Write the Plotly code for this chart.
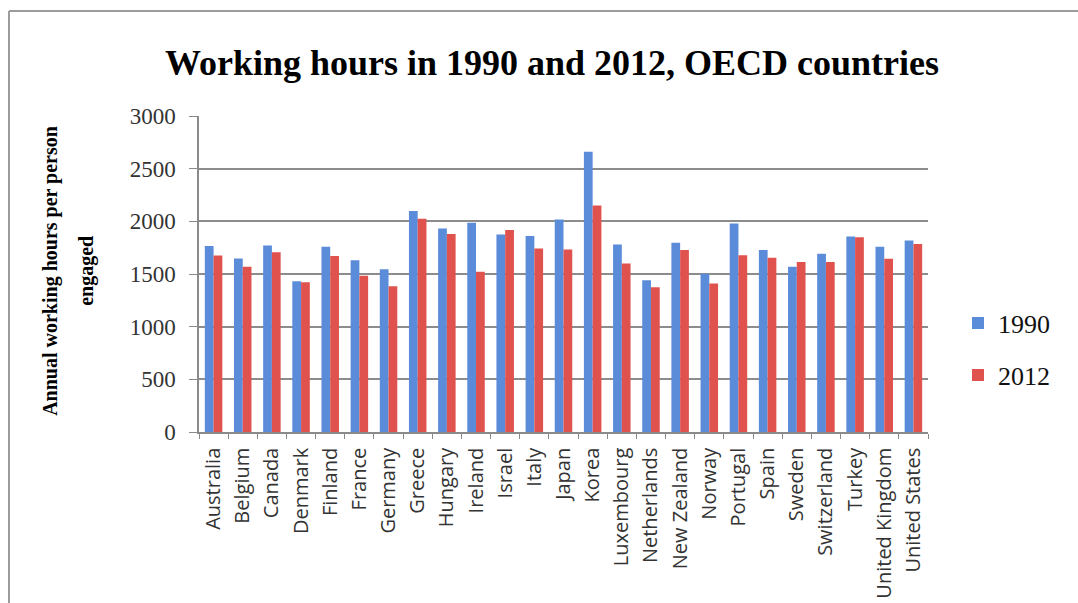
import plotly.graph_objects as go

countries = ["Australia", "Belgium", "Canada", "Denmark", "Finland", "France", "Germany",
             "Greece", "Hungary", "Ireland", "Israel", "Italy", "Japan", "Korea",
             "Luxembourg", "Netherlands", "New Zealand", "Norway", "Portugal", "Spain",
             "Sweden", "Switzerland", "Turkey", "United Kingdom", "United States"]
hours_1990 = [1765, 1647, 1771, 1432, 1758, 1631, 1546, 2097, 1932, 1986, 1875, 1860, 2018,
              2661, 1780, 1441, 1796, 1502, 1980, 1727, 1568, 1692, 1857, 1758, 1818]
hours_2012 = [1676, 1568, 1707, 1422, 1670, 1483, 1384, 2024, 1879, 1521, 1917, 1742, 1733,
              2151, 1600, 1375, 1727, 1410, 1679, 1654, 1613, 1613, 1850, 1644, 1784]
y_ticks = [0, 500, 1000, 1500, 2000, 2500, 3000]

BLUE = "#5b8cda"
RED = "#e0524e"
SERIF = "Liberation Serif, Times New Roman, serif"

fig = go.Figure()
fig.add_trace(go.Bar(name="1990", x=countries, y=hours_1990, marker_color=BLUE,
                     marker_line_width=0, legend="legend", showlegend=True))
fig.add_trace(go.Bar(name="2012", x=countries, y=hours_2012, marker_color=RED,
                     marker_line_width=0, legend="legend2", showlegend=True))

L, R, T, B = 199, 150, 116, 171
W, H = 1078, 603
pw, ph = W - L - R, H - T - B

def px(x):
    return (x - L) / pw

def py(y):
    return (H - B - y) / ph

fig.update_layout(
    width=W, height=H,
    margin=dict(l=L, r=R, t=T, b=B, pad=0, autoexpand=False),
    paper_bgcolor="white", plot_bgcolor="white",
    showlegend=True,
    barmode="group", bargap=0.4, bargroupgap=0,
    title=dict(text="<b>Working hours in 1990 and 2012, OECD countries</b>",
               x=552 / W, xanchor="center", y=1 - 62 / H, yanchor="middle",
               font=dict(family=SERIF, size=36, color="#000")),
    legend=dict(x=px(958), xanchor="left", y=py(323), yanchor="middle",
                font=dict(family=SERIF, size=26, color="#111"), bgcolor="rgba(0,0,0,0)"),
    legend2=dict(x=px(958), xanchor="left", y=py(375), yanchor="middle",
                 font=dict(family=SERIF, size=26, color="#111"), bgcolor="rgba(0,0,0,0)"),
    xaxis=dict(showline=True, linecolor="#8a8a8a", linewidth=1.5, automargin=False,
               ticks="outside", tickson="boundaries", ticklen=5, tickcolor="#8a8a8a",
               tickangle=-90, ticklabelstandoff=6,
               tickfont=dict(family="Open Sans, Lato, sans-serif", size=20, color="#333"),
               showgrid=False, range=[-0.5, len(countries) - 0.5]),
    yaxis=dict(range=[0, 3000], tickvals=y_ticks, showline=True, linecolor="#8a8a8a",
               linewidth=1.5, ticks="outside", ticklen=8, tickcolor="#8a8a8a",
               ticklabelstandoff=9, automargin=False,
               tickfont=dict(family=SERIF, size=23, color="#333"),
               showgrid=True, gridcolor="#8c8c8c", gridwidth=1.5, zeroline=False),
    annotations=[
        dict(text="<b>Annual working hours per person</b>", xref="paper", yref="paper",
             x=px(51), y=0.51, xanchor="center", yanchor="middle", textangle=-90,
             showarrow=False, font=dict(family=SERIF, size=20, color="#000")),
        dict(text="<b>engaged</b>", xref="paper", yref="paper",
             x=px(87), y=0.51, xanchor="center", yanchor="middle", textangle=-90,
             showarrow=False, font=dict(family=SERIF, size=20, color="#000")),
    ],
    shapes=[
        dict(type="line", xref="paper", yref="paper", x0=px(9), x1=px(1078),
             y0=py(11), y1=py(11), line=dict(color="#9c9c9c", width=2)),
        dict(type="line", xref="paper", yref="paper", x0=px(9), x1=px(9),
             y0=py(11), y1=py(603), line=dict(color="#9c9c9c", width=2)),
    ],
)

fig.write_html("out.html")
